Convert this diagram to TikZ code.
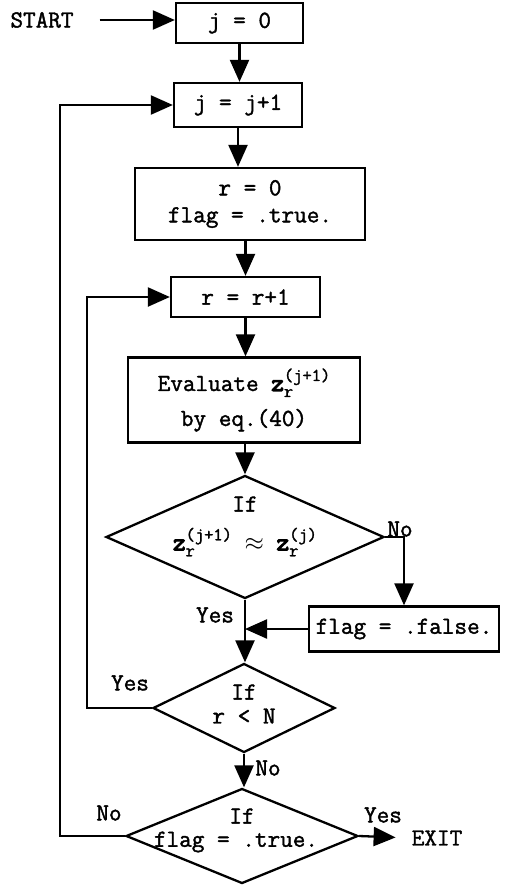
\documentclass[tikz,border=0pt]{standalone}
\usepackage{fontspec}
\usetikzlibrary{arrows.meta,shapes.geometric}
% typewriter face, slightly emboldened to match the heavy print
\newfontfamily\chartfont{Latin Modern Mono}[FakeBold=1.6]
\newfontfamily\vecfont{Latin Modern Mono}[FakeBold=4.5]
\newcommand\chartsize{\chartfont\fontsize{24.5}{27}\selectfont}
\newcommand\indexsize{\fontsize{18}{18}\selectfont}
% bold z with subscript r and a superscript
\newcommand\zr[1]{{\vecfont z}\makebox[0pt][l]{\raisebox{-6pt}{\indexsize r}}\raisebox{10pt}{\indexsize #1}}
\begin{document}
\begin{tikzpicture}[x=1pt,y=-1pt,line width=2.3pt,font=\chartsize,
  box/.style={draw,rectangle,inner sep=0pt,align=center},
  dia/.style={draw,diamond,inner sep=0pt},
  arr/.style={-{Triangle[length=22pt,width=19pt]}},
  lbl/.style={inner sep=0pt}]
\useasboundingbox (0,0) rectangle (508,886);

% process boxes
\node[lbl] (start) at (42,20) {START};
\node[box,minimum width=127pt,minimum height=40pt] (j0) at (239.5,23) {j = 0};
\node[box,minimum width=128pt,minimum height=44pt] (j1) at (238,105) {j = j+1};
\node[box,minimum width=230pt,minimum height=72pt] (r0) at (250,204) {r = 0\\flag = .true.};
\node[box,minimum width=149pt,minimum height=40pt] (r1) at (245.5,297) {r = r+1};
\node[box,minimum width=232pt,minimum height=85pt] (ev) at (244,400) {Evaluate \zr{(j+1)}\\[8pt]by eq.(40)};
\node[box,minimum width=190pt,minimum height=45pt] (ff) at (404,629) {flag = .false.};

% decisions
\node[dia,minimum width=278pt,minimum height=123pt] (d1) at (245,537) {};
\node[lbl] (d1a) at (245,504) {If};
\node[lbl] (d1b) at (245,542) {\zr{(j+1)} $\approx$ \zr{(j)}};
\node[dia,minimum width=182pt,minimum height=89pt] (d2) at (244,708) {};
\node[lbl] (d2a) at (244,692) {If};
\node[lbl] (d2b) at (244,716) {r < N};
\node[dia,minimum width=232pt,minimum height=95pt] (d3) at (242,836) {};
\node[lbl] (d3a) at (242,816) {If};
\node[lbl] (d3b) at (236,842) {flag = .true.};
\node[lbl] (exit) at (437,838) {EXIT};

% branch labels
\node[lbl] (n1) at (400,529) {No};
\node[lbl] (y1) at (215,615) {Yes};
\node[lbl] (y2) at (130,683) {Yes};
\node[lbl] (n2) at (268,768) {No};
\node[lbl] (n3) at (109,813) {No};
\node[lbl] (y3) at (383,815) {Yes};

% flow
\coordinate (lx) at (87,0);
\coordinate (ox) at (60,0);
\draw[arr,shorten <=25pt] (start.east) -- (start.east -| j0.west);
\draw[arr] (j0.south) -- (j0.south |- j1.north);
\draw[arr] (j1.south) -- (j1.south |- r0.north);
\draw[arr] (r1.north |- r0.south) -- (r1.north);
\draw[arr] (r1.south) -- (r1.south |- ev.north);
\draw[arr] (ev.south -| d1.north) -- (d1.north);
\draw[arr] (d1.east) -| (ff.north);
\coordinate (join) at (d1.south |- ff.west);
\draw[arr] (ff.west) -- (join);
\draw[arr] (d1.south) -- (d1.south |- d2.north);
\draw[arr] (d2.south) -- (d2.south |- d3.north);
\draw[arr] (d2.west) -- (d2.west -| lx) |- (r1.west);
\draw[arr] (d3.west) -- (d3.west -| ox) |- (j1.west);
\draw[arr,shorten >=15pt] (d3.east) -- (exit.west);
\end{tikzpicture}
\end{document}
